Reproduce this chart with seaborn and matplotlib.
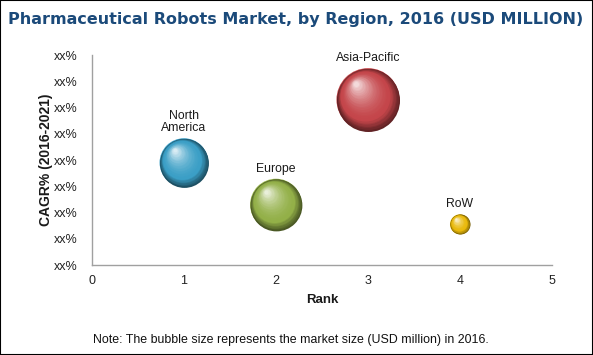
import numpy as np
import pandas as pd
import matplotlib
matplotlib.use("Agg")
import matplotlib.pyplot as plt
import matplotlib.colors as mcolors
from matplotlib.transforms import offset_copy
from matplotlib.patches import Rectangle
import seaborn as sns

regions = ["North America", "Europe", "Asia-Pacific", "RoW"]
labels = ["North\nAmerica", "Europe", "Asia-Pacific", "RoW"]
rank = [1, 2, 3, 4]
cagr = [3.9, 2.3, 6.3, 1.55]
market = [24, 27, 40, 4]
colors = ["#3b9fc6", "#93b048", "#c4454a", "#e9b90a"]
ytick_labels = ["xx%"] * 9

df = pd.DataFrame({"Region": regions, "Rank": rank, "CAGR": cagr, "Market": market})

sns.set_theme(style="white")
plt.rcParams["font.family"] = ["Liberation Sans", "DejaVu Sans"]

fig = plt.figure(figsize=(5.93, 3.55), dpi=100)
ax = fig.add_axes([0.1551, 0.2535, 0.7757, 0.5915])

size_range = (207, 2058)
sns.scatterplot(data=df, x="Rank", y="CAGR", hue="Region", palette=colors,
                size="Market", sizes=size_range, size_norm=(min(market), max(market)),
                legend=False, ax=ax, linewidth=0, zorder=3)

# sphere shading layers
mn, mx = min(market), max(market)
for xi, yi, m, c in zip(rank, cagr, market, colors):
    s = size_range[0] + (m - mn) / (mx - mn) * (size_range[1] - size_range[0])
    r_pt = np.sqrt(s) / 2
    base = np.array(mcolors.to_rgb(c))
    dark = base * 0.5
    light = base + (1 - base) * 0.8
    n = 28
    for i in range(n):
        t = i / (n - 1)
        f = 1 - 0.92 * t
        if t < 0.22:
            col = dark + (base - dark) * (t / 0.22)
        else:
            col = base + (light - base) * ((t - 0.22) / 0.78) ** 1.8
        off = (1 - f) * r_pt * 0.55
        tr = offset_copy(ax.transData, fig=fig, x=-off * 0.75, y=off, units="points")
        ax.scatter([xi], [yi], s=s * f * f, color=col, linewidth=0, transform=tr, zorder=4 + i)

for xi, yi, m, lab in zip(rank, cagr, market, labels):
    s = size_range[0] + (m - mn) / (mx - mn) * (size_range[1] - size_range[0])
    r_pt = np.sqrt(s) / 2
    ax.annotate(lab, (xi, yi), xytext=(0, r_pt + 3), textcoords="offset points",
                ha="center", va="bottom", fontsize=8.8, color="#1a1a1a",
                linespacing=1.0, zorder=50)

ax.set_xlim(0, 5)
ax.set_ylim(0, 8)
ax.set_xticks(range(6))
ax.set_yticks(range(9))
ax.set_yticklabels(ytick_labels)
ax.tick_params(axis="both", labelsize=9, colors="#a0a0a0", labelcolor="#222222",
               length=4, width=1, direction="out", pad=3)
ax.tick_params(axis="y", pad=6)
sns.despine(ax=ax)
for sp in ["left", "bottom"]:
    ax.spines[sp].set_color("#a0a0a0")
    ax.spines[sp].set_linewidth(1)
ax.set_xlabel("Rank", fontsize=9.5, fontweight="bold", color="#1a1a1a", labelpad=5)
ax.set_ylabel("CAGR% (2016-2021)", fontsize=10, fontweight="bold", color="#1a1a1a", labelpad=1)

fig.text(0.013, 0.945, "Pharmaceutical Robots Market, by Region, 2016 (USD MILLION)",
         fontsize=11.5, fontweight="bold", color="#1b4a7a", family="DejaVu Sans",
         ha="left", va="center")
fig.text(0.157, 0.042, "Note: The bubble size represents the market size (USD million) in 2016.",
         fontsize=8.9, color="#111111", ha="left", va="center")

fig.patches.append(Rectangle((0, 0), 1, 1, transform=fig.transFigure, fill=False,
                             edgecolor="black", linewidth=1.5, zorder=100))

fig.savefig("out.png", dpi=100)
